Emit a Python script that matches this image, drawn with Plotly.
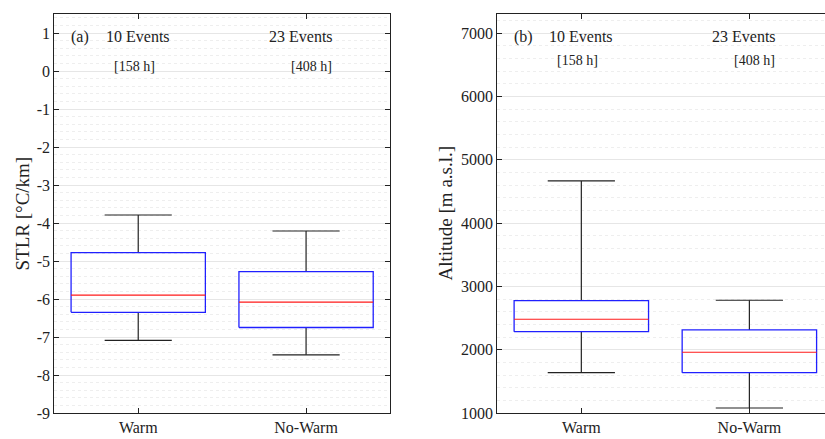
import plotly.graph_objects as go

# Categories and per-panel box statistics
categories = ["Warm", "No-Warm"]
cat_pos = [1, 2]

# (a) STLR [°C/km]
stlr_lower = [-7.09, -7.47]
stlr_q1 = [-6.35, -6.75]
stlr_median = [-5.90, -6.08]
stlr_q3 = [-4.78, -5.28]
stlr_upper = [-3.79, -4.21]
stlr_ticks = [-9, -8, -7, -6, -5, -4, -3, -2, -1, 0, 1]
stlr_ticklabels = ["-9", "-8", "-7", "-6", "-5", "-4", "-3", "-2", "-1", "0", "1"]

# (b) Altitude [m a.s.l.]
alt_lower = [1637, 1079]
alt_q1 = [2284, 1637]
alt_median = [2480, 1959]
alt_q3 = [2774, 2311]
alt_upper = [4665, 2780]
alt_ticks = [1000, 2000, 3000, 4000, 5000, 6000, 7000]
alt_ticklabels = ["1000", "2000", "3000", "4000", "5000", "6000", "7000"]

event_labels = ["10 Events", "23 Events"]
hour_labels = ["[158 h]", "[408 h]"]

FONT = "Liberation Serif"
HALF_BOX = 0.4   # half box width in category units
HALF_CAP = 0.2   # half whisker-cap width

fig = go.Figure()


def add_panel(xa, ya, lower, q1, med, q3, upper):
    wx, wy, bx, by, mx, my = [], [], [], [], [], []
    for c, lo, a, m, b, hi in zip(cat_pos, lower, q1, med, q3, upper):
        # whisker stems and caps
        wx += [c, c, None, c, c, None,
               c - HALF_CAP, c + HALF_CAP, None, c - HALF_CAP, c + HALF_CAP, None]
        wy += [b, hi, None, a, lo, None, hi, hi, None, lo, lo, None]
        # interquartile box outline
        bx += [c - HALF_BOX, c + HALF_BOX, c + HALF_BOX, c - HALF_BOX, c - HALF_BOX, None]
        by += [a, a, b, b, a, None]
        # median
        mx += [c - HALF_BOX, c + HALF_BOX, None]
        my += [m, m, None]
    common = dict(mode="lines", xaxis=xa, yaxis=ya, showlegend=False,
                  hoverinfo="skip", connectgaps=False)
    fig.add_trace(go.Scatter(x=wx, y=wy, line=dict(color="#222222", width=1.2), **common))
    fig.add_trace(go.Scatter(x=bx, y=by, line=dict(color="#2020ff", width=1.3), **common))
    fig.add_trace(go.Scatter(x=mx, y=my, line=dict(color="#ff1a1a", width=1.2), **common))


add_panel("x", "y", stlr_lower, stlr_q1, stlr_median, stlr_q3, stlr_upper)
add_panel("x2", "y2", alt_lower, alt_q1, alt_median, alt_q3, alt_upper)

tickfont = dict(family=FONT, size=16, color="#222222")
xcommon = dict(
    tickmode="array", tickvals=cat_pos, ticktext=categories,
    ticks="inside", ticklen=5, tickcolor="#222222",
    showline=True, linecolor="#222222", linewidth=1.2,
    showgrid=False, zeroline=False, tickfont=tickfont, automargin=False,
)
ycommon = dict(
    tickmode="array",
    ticks="inside", ticklen=5, tickcolor="#222222",
    showline=True, linecolor="#222222", linewidth=1.2,
    showgrid=True, gridcolor="#e6e6e6", gridwidth=1, zeroline=False,
    tickfont=tickfont, automargin=False,
)

fig.update_layout(
    width=825, height=439,
    margin=dict(l=0, r=0, t=14, b=26),
    paper_bgcolor="white", plot_bgcolor="white",
    font=dict(family=FONT, color="#222222"),
    xaxis=dict(domain=[54.3 / 825, 390 / 825], range=[0.5, 2.5],
               mirror="ticks", anchor="y", **xcommon),
    yaxis=dict(range=[-9, 1.5], tickvals=stlr_ticks, ticktext=stlr_ticklabels,
               mirror="ticks", anchor="x",
               minor=dict(dtick=0.2, tick0=0, showgrid=True, griddash="dot",
                          gridcolor="#eeeeee", gridwidth=1),
               **ycommon),
    xaxis2=dict(domain=[497.3 / 825, 1.0], range=[0.5, 2.45],
                mirror="ticks", anchor="y2", **xcommon),
    yaxis2=dict(range=[1000, 7300], tickvals=alt_ticks, ticktext=alt_ticklabels,
                anchor="x2",
                minor=dict(dtick=200, tick0=0, showgrid=True, griddash="dot",
                           gridcolor="#eeeeee", gridwidth=1),
                **ycommon),
)

annotations = []
# axis titles, positioned in pixels and converted to paper fractions
for px, py, txt in [(22, 213.5, "STLR [°C/km]"), (445, 213.5, "Altitude [m a.s.l.]")]:
    annotations.append(dict(x=px / 825, y=(439 - 26 - py) / (439 - 14 - 26),
                            xref="paper", yref="paper", text=txt, textangle=-90,
                            showarrow=False, xanchor="center", yanchor="middle",
                            font=dict(family=FONT, size=19)))

# panel (a) labels
annotations.append(dict(x=0.655, y=0.9, xref="x", yref="y", text="(a)",
                        showarrow=False, font=dict(family=FONT, size=16)))
for xc, ev, dx in zip(cat_pos, event_labels, [0.0, -0.03]):
    annotations.append(dict(x=xc + dx, y=0.9, xref="x", yref="y", text=ev,
                            showarrow=False, font=dict(family=FONT, size=16)))
for xc, hr, dx in zip(cat_pos, hour_labels, [-0.02, 0.03]):
    annotations.append(dict(x=xc + dx, y=0.13, xref="x", yref="y", text=hr,
                            showarrow=False, font=dict(family=FONT, size=14)))
# panel (b) labels
annotations.append(dict(x=0.653, y=6937, xref="x2", yref="y2", text="(b)",
                        showarrow=False, font=dict(family=FONT, size=16)))
for xc, ev, dx in zip(cat_pos, event_labels, [0.0, -0.033]):
    annotations.append(dict(x=xc + dx, y=6937, xref="x2", yref="y2", text=ev,
                            showarrow=False, font=dict(family=FONT, size=16)))
for xc, hr, dx in zip(cat_pos, hour_labels, [-0.023, 0.03]):
    annotations.append(dict(x=xc + dx, y=6558, xref="x2", yref="y2", text=hr,
                            showarrow=False, font=dict(family=FONT, size=14)))
fig.update_layout(annotations=annotations)

fig.write_html("out.html")
